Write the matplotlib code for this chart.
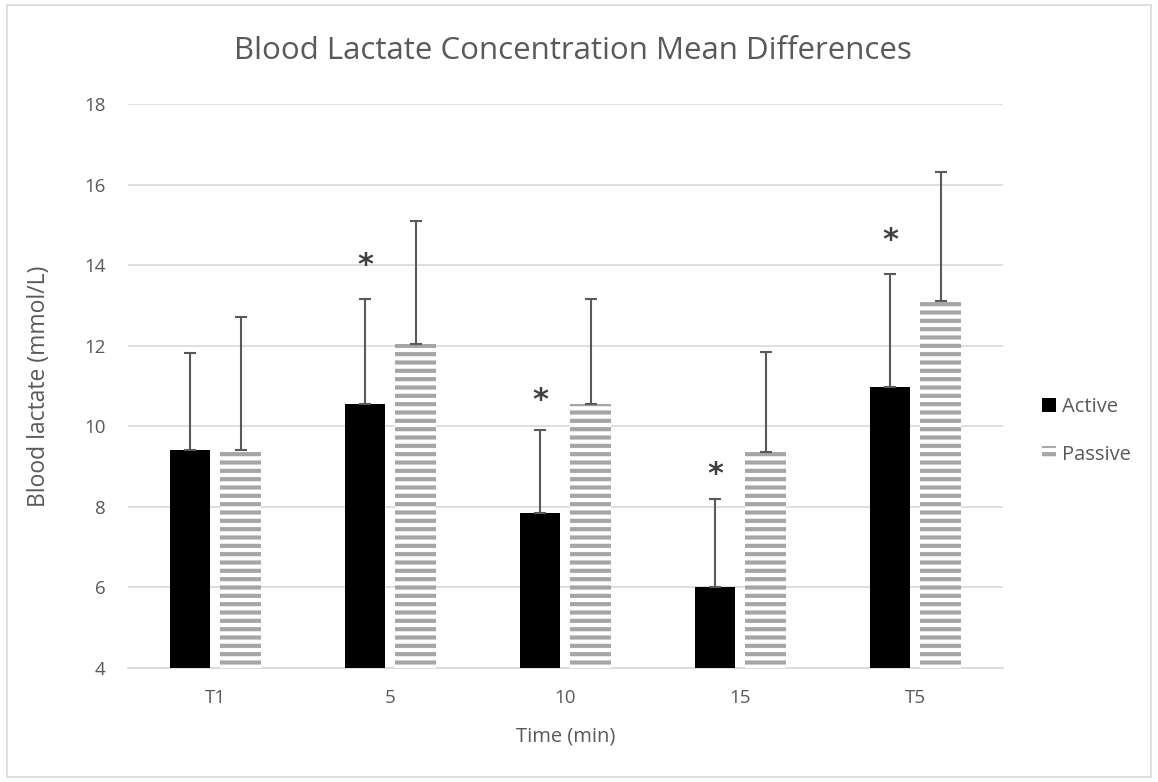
import matplotlib
matplotlib.use("Agg")
import matplotlib.pyplot as plt
import numpy as np

plt.rcParams["font.family"] = ["Open Sans", "DejaVu Sans"]
plt.rcParams["hatch.linewidth"] = 3.0

categories = ["T1", "5", "10", "15", "T5"]
active = [9.4, 10.55, 7.85, 6.0, 10.97]
active_err = [2.42, 2.6, 2.05, 2.2, 2.8]
passive = [9.4, 12.05, 10.55, 9.35, 13.1]
passive_err = [3.32, 3.05, 2.6, 2.5, 3.2]
significant = [False, True, True, True, True]
star_y = [None, 14.0, 10.65, 8.8, 14.6]

TEXT = "#595959"
GRID = "#d9d9d9"
STRIPE = "#a5a5a5"
BASE = 4

fig = plt.figure(figsize=(11.58, 7.82), dpi=100)
ax = fig.add_axes([0.1105, 0.1458, 0.7556, 0.7212])

x = np.arange(len(categories))
w = 0.234
gap = 0.057
xa = x - (w + gap) / 2
xp = x + (w + gap) / 2

a_heights = [v - BASE for v in active]
p_heights = [v - BASE for v in passive]

ax.bar(xa, a_heights, w, bottom=BASE, color="black", label="Active", zorder=3)
ax.bar(xp, p_heights, w, bottom=BASE, facecolor="white", edgecolor=STRIPE,
       hatch="--", linewidth=0, label="Passive", zorder=3)

# upper error bars only
ax.errorbar(xa, active, yerr=[np.zeros(len(active)), active_err], fmt="none",
            ecolor=TEXT, elinewidth=1.5, capsize=4.5, capthick=1.5, zorder=4)
ax.errorbar(xp, passive, yerr=[np.zeros(len(passive)), passive_err], fmt="none",
            ecolor=TEXT, elinewidth=1.5, capsize=4.5, capthick=1.5, zorder=4)

for xi, sig, sy in zip(xa, significant, star_y):
    if sig:
        ax.text(xi, sy, "*", ha="center", va="center", fontsize=22,
                fontweight="bold", color="#404040", family="DejaVu Sans")

ax.set_xlim(-0.5, len(categories) - 0.5)
ax.set_ylim(4, 18)
ax.set_yticks(np.arange(4, 19, 2))
ax.set_xticks(x)
ax.set_xticklabels(categories)
ax.yaxis.grid(True, color=GRID, linewidth=1.2, zorder=0)
ax.set_axisbelow(True)
for side in ["top", "right", "left"]:
    ax.spines[side].set_visible(False)
ax.spines["bottom"].set_color(GRID)
ax.spines["bottom"].set_linewidth(1.2)
ax.tick_params(axis="both", length=0, labelsize=13.5, colors=TEXT)
ax.tick_params(axis="x", pad=15)
ax.tick_params(axis="y", pad=16)

ax.set_xlabel("Time (min)", fontsize=14.5, color=TEXT, labelpad=14)
ax.set_ylabel("Blood lactate (mmol/L)", fontsize=16.5, color=TEXT, labelpad=24)
fig.text(0.495, 0.935, "Blood Lactate Concentration Mean Differences",
         ha="center", va="center", fontsize=22.5, color=TEXT)

ax.legend(loc="center left", bbox_to_anchor=(1.024, 0.42), frameon=False,
          fontsize=14.5, labelcolor=TEXT, handlelength=0.7, handleheight=0.7,
          handletextpad=0.3, labelspacing=1.4)

# light border around the whole chart
fig.patches.append(plt.Rectangle((0.006, 0.006), 0.988, 0.988, transform=fig.transFigure,
                                 fill=False, edgecolor=GRID, linewidth=1.2))

fig.savefig("out.png", dpi=100, facecolor="white")
